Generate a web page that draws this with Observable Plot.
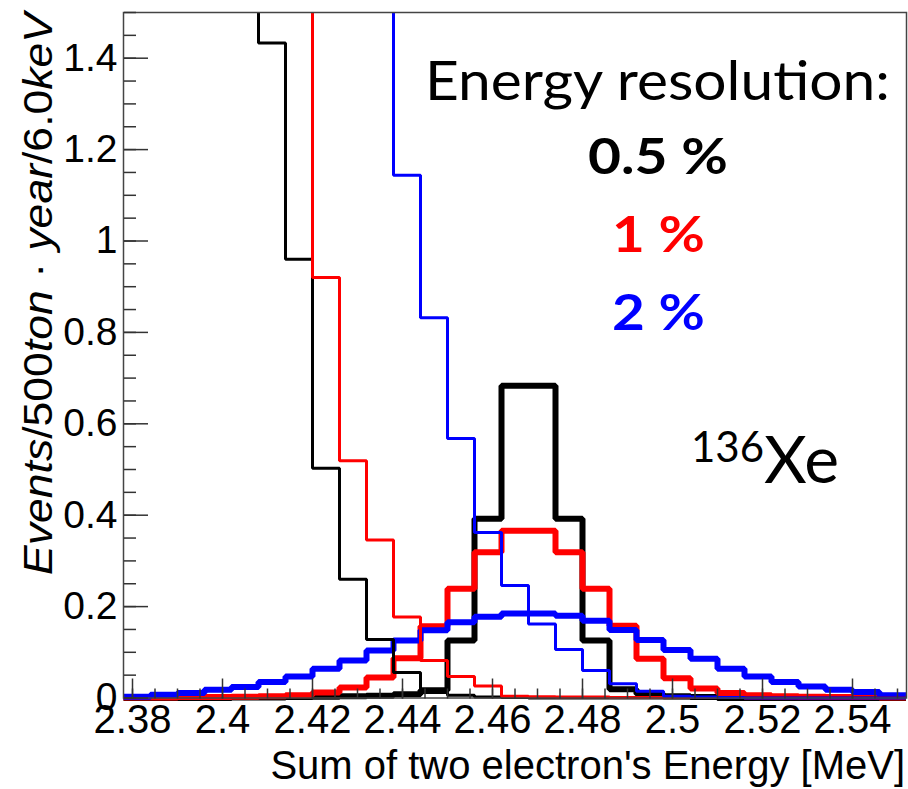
<!DOCTYPE html>
<html><head><meta charset="utf-8">
<script src="https://cdn.jsdelivr.net/npm/d3@7"></script>
<script src="https://cdn.jsdelivr.net/npm/@observablehq/plot@0.6"></script>
<style>
html,body{margin:0;padding:0;background:#fff;}
#chart{width:908px;height:789px;overflow:hidden;}
</style></head><body><div id="chart"></div>
<script>
// Bin lower edges (MeV), 6 keV bins
const binLow = [2.378, 2.384, 2.390, 2.396, 2.402, 2.408, 2.414, 2.420, 2.426, 2.432,
                2.438, 2.444, 2.450, 2.456, 2.462, 2.468, 2.474, 2.480, 2.486, 2.492,
                2.498, 2.504, 2.510, 2.516, 2.522, 2.528, 2.534, 2.540, 2.546];
const binWidth = 0.006;

// 2-neutrino background (thin lines), values above 1.5 are off-scale estimates
const bg05 = [7.8, 5.8, 4.2, 3.0, 2.1, 1.433, 0.96, 0.503, 0.26, 0.128, 0.056, 0.012, 0.006, 0.002, 0.001,
              0, 0, 0, 0, 0, 0, 0, 0, 0, 0, 0, 0, 0, 0];
const bg1  = [9.0, 7.2, 5.7, 4.4, 3.3, 2.4, 1.65, 0.92, 0.519, 0.346, 0.177, 0.082, 0.047, 0.026, 0.004,
              0.003, 0.002, 0.002, 0.001, 0.001, 0.001, 0.001, 0.001, 0, 0, 0, 0, 0, 0];
const bg2  = [9.7, 8.4, 7.2, 6.1, 5.1, 4.2, 3.4, 2.7, 2.1, 1.6, 1.144, 0.832, 0.568, 0.362, 0.246,
              0.162, 0.106, 0.06, 0.031, 0.015, 0.004, 0.002, 0.001, 0, 0, 0, 0, 0, 0];

// 0-neutrino signal (thick lines)
const sig05 = [0, 0, 0, 0, 0.001, 0.001, 0.002, 0.003, 0.004, 0.005, 0.008, 0.017, 0.126, 0.392, 0.683,
               0.683, 0.392, 0.126, 0.019, 0.009, 0.004, 0.002, 0, 0, 0, 0, 0, 0, 0];
const sig1  = [0.001, 0.001, 0.002, 0.002, 0.003, 0.004, 0.006, 0.012, 0.023, 0.045, 0.087, 0.157, 0.239, 0.319, 0.366,
               0.366, 0.319, 0.239, 0.158, 0.086, 0.043, 0.021, 0.011, 0.006, 0.004, 0.003, 0.002, 0.002, 0.001];
const sig2  = [0.003, 0.007, 0.011, 0.018, 0.024, 0.035, 0.047, 0.064, 0.082, 0.104, 0.126, 0.148, 0.166, 0.178, 0.185,
               0.185, 0.18, 0.169, 0.149, 0.127, 0.105, 0.086, 0.064, 0.047, 0.035, 0.025, 0.018, 0.013, 0.006];

const seriesNames = ["0.5 %", "1 %", "2 %"];
const seriesColors = ["#000000", "#ff0000", "#0000ff"];

const xTicks = [2.38, 2.40, 2.42, 2.44, 2.46, 2.48, 2.50, 2.52, 2.54];
const xMinor = [2.380, 2.385, 2.390, 2.395, 2.400, 2.405, 2.410, 2.415, 2.420, 2.425, 2.430, 2.435,
                2.440, 2.445, 2.450, 2.455, 2.460, 2.465, 2.470, 2.475, 2.480, 2.485, 2.490, 2.495,
                2.500, 2.505, 2.510, 2.515, 2.520, 2.525, 2.530, 2.535, 2.540, 2.545, 2.550];
const yTicks = [0, 0.2, 0.4, 0.6, 0.8, 1.0, 1.2, 1.4];
const yMinor = [0, 0.05, 0.1, 0.15, 0.2, 0.25, 0.3, 0.35, 0.4, 0.45, 0.5, 0.55, 0.6, 0.65, 0.7, 0.75,
                0.8, 0.85, 0.9, 0.95, 1.0, 1.05, 1.1, 1.15, 1.2, 1.25, 1.3, 1.35, 1.4, 1.45, 1.5];

function steps(vals) {
  const pts = binLow.map((x, i) => ({x, y: vals[i]}));
  pts.push({x: binLow[binLow.length - 1] + binWidth, y: vals[vals.length - 1]});
  return pts;
}

const fmt = d => String(+d.toFixed(2));
const font = "'Liberation Sans', Arial, Helvetica, sans-serif";

const histo = (vals, color, w) => Plot.lineY(steps(vals), {
  x: "x", y: "y", curve: "step-after", stroke: color, strokeWidth: w,
  strokeLinejoin: "miter", strokeLinecap: "butt", clip: true
});

const chart = Plot.plot({
  width: 908, height: 789,
  marginLeft: 123, marginTop: 12, marginRight: 2, marginBottom: 91.5,
  style: {fontFamily: font, background: "#fff", color: "#000"},
  x: {domain: [2.378, 2.552]},
  y: {domain: [0, 1.5]},
  marks: [
    histo(sig05, seriesColors[0], 6),
    histo(sig1, seriesColors[1], 6),
    histo(sig2, seriesColors[2], 6),
    histo(bg05, seriesColors[0], 3),
    histo(bg1, seriesColors[1], 3),
    histo(bg2, seriesColors[2], 3),
    Plot.frame({stroke: "#444", strokeWidth: 1.5}),
    // y ticks, inward
    Plot.axisY({anchor: "right", frameAnchor: "left", ticks: yTicks, tickSize: 24, fill: "none", stroke: "#333", strokeWidth: 1.5, label: null}),
    Plot.axisY({anchor: "right", frameAnchor: "left", ticks: yMinor, tickSize: 12, fill: "none", stroke: "#333", strokeWidth: 1.5, label: null}),
    Plot.axisY({anchor: "left", ticks: yTicks, tickSize: 0, tickPadding: 6, tickFormat: fmt, fontSize: 39, label: null}),
    // x ticks, inward
    Plot.axisX({anchor: "top", frameAnchor: "bottom", ticks: xTicks, tickSize: 20, fill: "none", stroke: "#333", strokeWidth: 1.5, label: null}),
    Plot.axisX({anchor: "top", frameAnchor: "bottom", ticks: xMinor, tickSize: 10, fill: "none", stroke: "#333", strokeWidth: 1.5, label: null}),
    Plot.axisX({anchor: "bottom", ticks: xTicks, tickSize: 0, tickPadding: 7, tickFormat: fmt, fontSize: 40, label: null})
  ]
});

document.getElementById("chart").appendChild(chart);
const svg = d3.select(chart);
// let thick lines near zero show slightly below the axis
svg.selectAll("clipPath rect").each(function() {
  const r = d3.select(this);
  r.attr("height", +r.attr("height") + 4);
});

// Y axis title
const yt = svg.append("text")
  .attr("transform", "translate(52,13) rotate(-90)")
  .attr("text-anchor", "end")
  .attr("font-family", font)
  .attr("font-size", 41)
  .attr("textLength", 562)
  .attr("lengthAdjust", "spacingAndGlyphs")
  .attr("fill", "#000");
[["Events", true], ["/500", false], ["ton", true], [" \u00B7 ", false], ["year", true], ["/6.0", false], ["keV", true]]
  .forEach(([t, it]) => yt.append("tspan").attr("font-style", it ? "italic" : "normal").text(t));

// X axis title
svg.append("text")
  .attr("x", 905).attr("y", 779)
  .attr("text-anchor", "end")
  .attr("font-family", font)
  .attr("font-size", 40)
  .attr("fill", "#000")
  .text("Sum of two electron's Energy [MeV]");

// Annotations
const annFont = "Lato, 'Open Sans', sans-serif";
svg.append("text").attr("x", 425).attr("y", 100).attr("text-anchor", "start")
  .attr("font-family", annFont).attr("font-size", 54).attr("fill", "#000")
  .attr("textLength", 465).attr("lengthAdjust", "spacingAndGlyphs").text("Energy resolution:");
const resY = [174, 252, 330];
const resX = [588, 612, 612];
const resW = [140, 93, 93];
seriesNames.forEach((n, i) => {
  svg.append("text").attr("x", resX[i]).attr("y", resY[i]).attr("text-anchor", "start")
    .attr("font-family", annFont).attr("font-weight", "bold").attr("font-size", 50)
    .attr("textLength", resW[i]).attr("lengthAdjust", "spacingAndGlyphs")
    .attr("fill", seriesColors[i]).text(n);
});
const xe = svg.append("text").attr("x", 691).attr("y", 483).attr("text-anchor", "start")
  .attr("font-family", annFont).attr("fill", "#000");
xe.append("tspan").attr("font-size", 42).attr("dy", -21).text("136");
xe.append("tspan").attr("font-size", 66).attr("dy", 21).text("Xe");
</script>
</body></html>
